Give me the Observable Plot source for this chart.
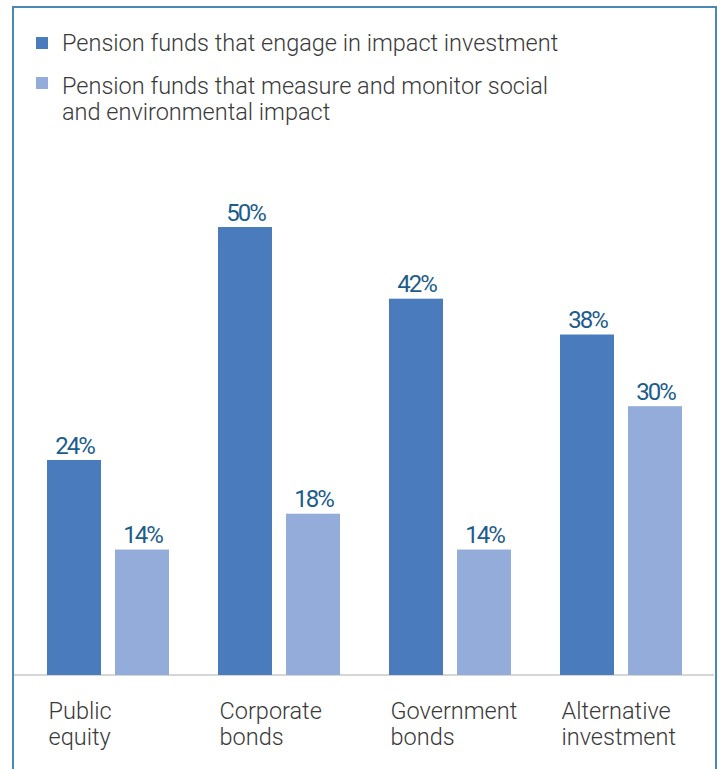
<!DOCTYPE html>
<html>
<head>
<meta charset="utf-8">
<script src="https://cdn.jsdelivr.net/npm/d3@7"></script>
<script src="https://cdn.jsdelivr.net/npm/@observablehq/plot@0.6"></script>
<style>
  body { margin: 0; background: #fff; font-family: Roboto, sans-serif; }
  #wrap { position: relative; width: 720px; height: 769px; overflow: hidden; }
  #frame { position: absolute; left: 12px; top: 6px; width: 701px; height: 800px; border: 2px solid #4a89b6; border-bottom: none; }
  #legend { position: absolute; left: 36px; top: 0; }
  .item { position: absolute; left: 0; white-space: nowrap; }
  .sw { position: absolute; left: 0; width: 12px; height: 12px; }
  .lt { position: absolute; left: 26px; top: 0; font-size: 23.5px; line-height: 26px; color: #3a3a3a; font-weight: 300; }
  #chart { position: absolute; left: 0; top: 0; }
</style>
</head>
<body>
<div id="wrap">
  <div id="frame"></div>
  <div id="legend"></div>
  <div id="chart"></div>
</div>
<script>
const categories = ["Public equity", "Corporate bonds", "Government bonds", "Alternative investment"];
const series = [
  "Pension funds that engage in impact investment",
  "Pension funds that measure and monitor social and environmental impact"
];
const legendLines = [
  ["Pension funds that engage in impact investment"],
  ["Pension funds that measure and monitor social", "and environmental impact"]
];
const engage = [24, 50, 42, 38];
const measure = [14, 18, 14, 30];
const colors = ["#4a7bbd", "#93acd9"];

const data = categories.flatMap((c, i) => [
  {category: c, series: series[0], value: engage[i]},
  {category: c, series: series[1], value: measure[i]}
]);

const chart = Plot.plot({
  width: 720,
  height: 769,
  marginLeft: 46,
  marginRight: 37,
  marginTop: 227,
  marginBottom: 94,
  style: {fontFamily: "Roboto, sans-serif", background: "transparent"},
  fx: {domain: categories, paddingInner: 0.2893, paddingOuter: 0, axis: null, label: null},
  x: {domain: series, paddingInner: 0.2059, paddingOuter: 0, axis: null},
  y: {domain: [0, 50], axis: null},
  color: {domain: series, range: colors},
  marks: [
    Plot.barY(data, {fx: "category", x: "series", y: "value", fill: "series"}),
    Plot.text(data, {
      fx: "category", x: "series", y: "value",
      text: d => d.value + "%",
      lineAnchor: "top", dy: -24,
      fill: "#1d5d8c", fontSize: 24
    }),
    Plot.text(categories, {
      fx: d => d,
      frameAnchor: "bottom-left",
      text: d => d.replace(" ", "\n"),
      textAnchor: "start",
      lineAnchor: "top",
      lineHeight: 1.106,
      dy: 25.3, dx: 1,
      fontSize: 23.5, fontWeight: 300,
      fill: "#3a3a3a"
    })
  ]
});

// tighter spacing for value labels
d3.select(chart).selectAll("text")
  .filter(function () { return /%$/.test(this.textContent); })
  .style("letter-spacing", "-2px");

// baseline rule across the whole panel at y = 0
const y0 = chart.scale("y").apply(0);
d3.select(chart).insert("line", ":first-child")
  .attr("x1", 14).attr("x2", 714)
  .attr("y1", y0).attr("y2", y0)
  .attr("stroke", "#d6d6d6").attr("stroke-width", 2);

document.getElementById("chart").appendChild(chart);

// legend
const legend = d3.select("#legend");
const tops = [30, 73];
const swTops = [37, 77];
legendLines.forEach((lines, i) => {
  const it = legend.append("div").attr("class", "item").style("top", "0px");
  it.append("div").attr("class", "sw").style("top", swTops[i] + "px").style("background", colors[i]);
  it.append("div").attr("class", "lt").style("top", tops[i] + "px").html(lines.join("<br>"));
});
</script>
</body>
</html>
